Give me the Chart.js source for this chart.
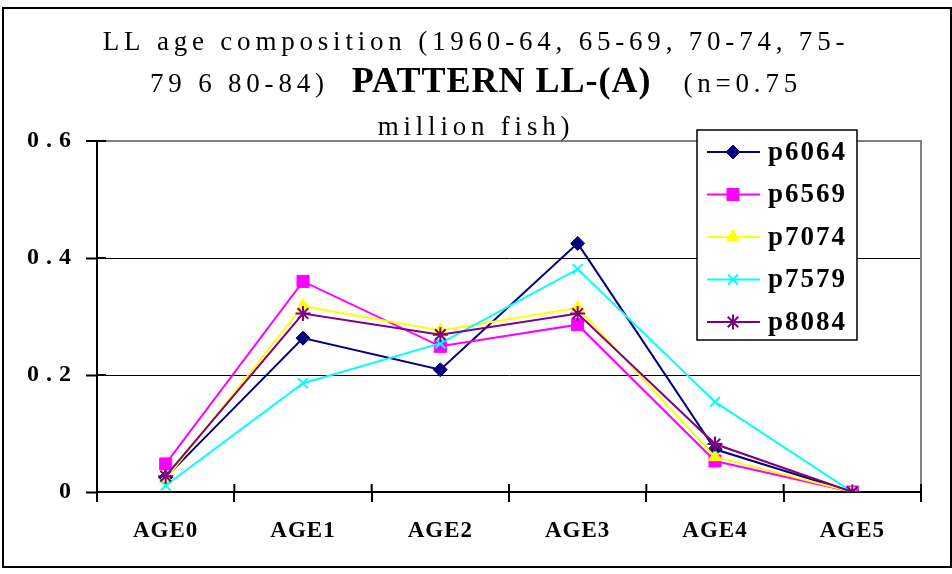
<!DOCTYPE html>
<html>
<head>
<meta charset="utf-8">
<script src="https://cdn.jsdelivr.net/npm/chart.js@4/dist/chart.umd.min.js"></script>
<style>
  html, body { margin: 0; padding: 0; background: #fff; }
  #wrap { width: 952px; height: 574px; }
</style>
</head>
<body>
<div id="wrap"><canvas id="myChart" width="952" height="574"></canvas></div>
<script>
const labels = ["AGE0", "AGE1", "AGE2", "AGE3", "AGE4", "AGE5"];

const p6064 = [0.025, 0.263, 0.209, 0.425, 0.073, 0.0];
const p6569 = [0.048, 0.360, 0.249, 0.286, 0.053, 0.0];
const p7074 = [0.022, 0.318, 0.276, 0.315, 0.060, 0.0];
const p7579 = [0.011, 0.186, 0.254, 0.381, 0.154, 0.0];
const p8084 = [0.027, 0.305, 0.269, 0.305, 0.082, 0.0];

const yMin = 0;
const yMax = 0.6;
const yStep = 0.2;

const titleLine1 = "LL age composition (1960-64, 65-69, 70-74, 75-";
const titleLine2a = "79 6 80-84)";
const titleBold = "PATTERN LL-(A)";
const titleLine2b = "(n=0.75";
const titleLine3 = "million fish)";

const serif = "'Liberation Serif', 'Times New Roman', serif";
const normalFont = "27px " + serif;
const boldTitleFont = "bold 36px " + serif;

// letter spacing of the tick labels, per axis
const tickSpacing = { x: 1, y: 7 };

// series look: colour, marker, marker size
function series(label, values, color, style, radius) {
    return {
        label: label,
        data: values,
        borderColor: color,
        backgroundColor: color,
        borderWidth: 2,
        pointStyle: style,
        pointRadius: radius,
        pointBackgroundColor: color,
        pointBorderColor: color,
        pointBorderWidth: (style === 'crossRot' || style === 'star') ? 2 : 1,
        fill: false,
        tension: 0,
    };
}

const datasets = [
    series("p6064", p6064, '#000080', 'rectRot', 7),
    series("p6569", p6569, '#FF00FF', 'rect', 8.5),
    series("p7074", p7074, '#FFFF00', 'triangle', 7.5),
    series("p7579", p7579, '#00FFFF', 'crossRot', 7),
    series("p8084", p8084, '#800080', 'star', 7.5),
];
// later series sit on top
datasets.forEach((d, i) => { d.order = datasets.length - i; });

const isTop = (c) => c.tick && Math.abs(c.tick.value - yMax) < 1e-9;

// wrap each axis' label drawing so it gets its own letter spacing
const spacingPlugin = {
    id: 'spacing',
    afterLayout(chart) {
        Object.keys(tickSpacing).forEach(id => {
            const s = chart.scales[id];
            if (!s || s._spaced) return;
            const draw = s.drawLabels;
            s.drawLabels = function (area) {
                const c = this.ctx;
                const old = c.letterSpacing;
                c.letterSpacing = tickSpacing[id] + 'px';
                draw.call(this, area);
                c.letterSpacing = old;
            };
            s._spaced = true;
        });
    }
};

// gray frame on the right, inner half of the cross ticks, outer border
const framePlugin = {
    id: 'frame',
    beforeDatasetsDraw(chart) {
        const ctx = chart.ctx;
        const a = chart.chartArea;
        const x = chart.scales.x;
        const y = chart.scales.y;
        ctx.save();
        ctx.strokeStyle = '#808080';
        ctx.lineWidth = 2;
        ctx.beginPath();
        ctx.moveTo(a.right, a.top - 1);
        ctx.lineTo(a.right, a.bottom);
        ctx.stroke();

        ctx.strokeStyle = '#000';
        ctx.lineWidth = 2;
        ctx.beginPath();
        const step = x.getPixelForTick(1) - x.getPixelForTick(0);
        for (let i = 0; i <= labels.length; i++) {
            const px = x.getPixelForTick(0) - step / 2 + i * step;
            ctx.moveTo(px, a.bottom - 8);
            ctx.lineTo(px, a.bottom);
        }
        y.ticks.forEach((t, i) => {
            const py = y.getPixelForTick(i);
            ctx.moveTo(a.left, py);
            ctx.lineTo(a.left + 9, py);
        });
        ctx.stroke();
        ctx.restore();
    },
    afterDraw(chart) {
        const ctx = chart.ctx;
        ctx.save();
        ctx.strokeStyle = '#000';
        ctx.lineWidth = 2;
        ctx.strokeRect(3, 8, chart.width - 4, chart.height - 15);
        ctx.restore();
    }
};

// three-line title, middle line mixes plain and bold text
const titlePlugin = {
    id: 'mixedTitle',
    afterDraw(chart) {
        const ctx = chart.ctx;
        const cx = chart.width / 2;
        const lines = [
            { y: 50, runs: [[titleLine1, normalFont, 4.8, 0]] },
            { y: 92, runs: [[titleLine2a, normalFont, 4.8, 0], [titleBold, boldTitleFont, 1, 23], [titleLine2b, normalFont, 4.8, 32]] },
            { y: 135, runs: [[titleLine3, normalFont, 4.8, 0]] },
        ];
        ctx.save();
        ctx.fillStyle = '#000';
        ctx.textAlign = 'left';
        ctx.textBaseline = 'alphabetic';
        lines.forEach(line => {
            const widths = line.runs.map(([t, f, ls]) => {
                ctx.font = f;
                ctx.letterSpacing = ls + 'px';
                return ctx.measureText(t).width;
            });
            let total = 0;
            line.runs.forEach((r, i) => { total += widths[i] + r[3]; });
            let x = cx - total / 2;
            line.runs.forEach(([t, f, ls, gap], i) => {
                x += gap;
                ctx.font = f;
                ctx.letterSpacing = ls + 'px';
                ctx.fillText(t, x, line.y);
                x += widths[i];
            });
        });
        ctx.restore();
    }
};

// boxed legend laid over the top right of the plot
const legendPlugin = {
    id: 'boxLegend',
    afterDraw(chart) {
        const ctx = chart.ctx;
        const box = { x: 697, y: 130, w: 160, h: 210 };
        ctx.save();
        ctx.fillStyle = '#fff';
        ctx.fillRect(box.x, box.y, box.w, box.h);
        ctx.strokeStyle = '#000';
        ctx.lineWidth = 1.5;
        ctx.strokeRect(box.x, box.y, box.w, box.h);
        chart.data.datasets.forEach((ds, i) => {
            const y = box.y + 22 + i * 42.5;
            ctx.strokeStyle = ds.borderColor;
            ctx.lineWidth = 2;
            ctx.beginPath();
            ctx.moveTo(box.x + 10, y);
            ctx.lineTo(box.x + 63, y);
            ctx.stroke();
            ctx.fillStyle = ds.pointBackgroundColor;
            ctx.strokeStyle = ds.pointBorderColor;
            ctx.lineWidth = ds.pointBorderWidth;
            Chart.helpers.drawPoint(ctx, {
                pointStyle: ds.pointStyle,
                radius: ds.pointRadius,
                rotation: 0,
                borderWidth: ds.pointBorderWidth
            }, box.x + 36, y);
            ctx.fillStyle = '#000';
            ctx.font = "bold 27px " + serif;
            ctx.letterSpacing = '2px';
            ctx.textAlign = 'left';
            ctx.textBaseline = 'middle';
            ctx.fillText(ds.label, box.x + 71, y + 1);
        });
        ctx.restore();
    }
};

const ctx = document.getElementById("myChart").getContext("2d");

const config = {
    type: 'line',
    data: { labels, datasets },
    options: {
        responsive: false,
        animation: false,
        events: [],
        layout: { padding: { left: 0, right: 31, top: 141, bottom: 0 } },
        scales: {
            x: {
                offset: true,
                afterFit: (s) => { s.height = 82; },
                grid: {
                    offset: true,
                    drawOnChartArea: false,
                    tickLength: 10,
                    color: '#000',
                    lineWidth: 2,
                },
                border: { color: '#000', width: 2 },
                ticks: {
                    color: '#000',
                    padding: 15,
                    maxRotation: 0,
                    autoSkip: false,
                    font: { family: serif, weight: 'bold', size: 23 },
                },
            },
            y: {
                min: yMin,
                max: yMax,
                afterFit: (s) => { s.width = 97; },
                grid: {
                    color: (c) => isTop(c) ? '#808080' : '#000',
                    lineWidth: (c) => isTop(c) ? 2 : 1,
                    tickColor: '#000',
                    tickWidth: 2,
                    tickLength: 11,
                },
                border: { color: '#000', width: 2 },
                ticks: {
                    stepSize: yStep,
                    color: '#000',
                    padding: 8,
                    font: { family: serif, weight: 'bold', size: 24 },
                },
            },
        },
        plugins: {
            legend: { display: false },
            tooltip: { enabled: false },
        },
    },
    plugins: [spacingPlugin, framePlugin, titlePlugin, legendPlugin],
};

const myChart = new Chart(ctx, config);
</script>
</body>
</html>
